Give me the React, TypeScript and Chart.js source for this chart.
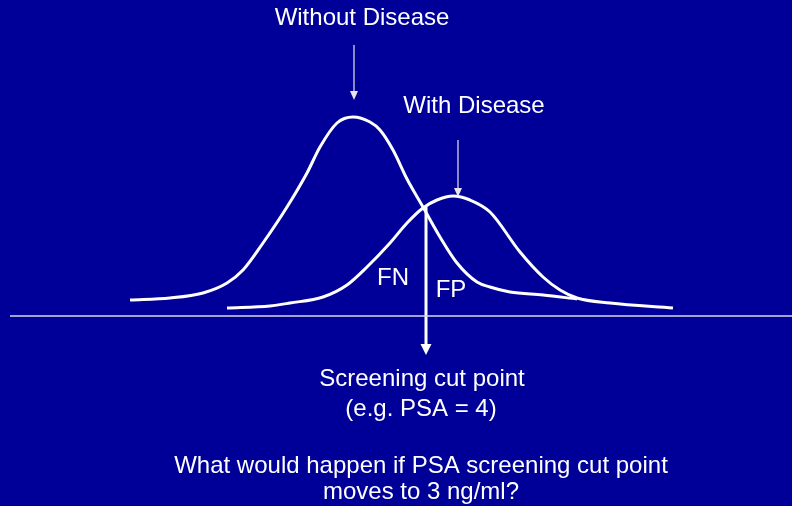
import React, { useEffect, useRef } from "react";
import { Chart, registerables } from "chart.js";

Chart.register(...registerables);

// Horizontal position (arbitrary units) and curve height above the baseline (arbitrary units)
const withoutDiseaseX = [130, 170, 203, 227, 243, 263, 287, 307, 320, 337, 353, 370, 380, 393, 407, 423, 440, 457, 477, 490, 510, 543, 577];
const withoutDiseaseY = [16, 18, 23, 33, 46, 73, 109, 143, 169, 193, 199, 194, 186, 166, 137, 109, 79, 53, 34, 29, 24, 21, 17];

const withDiseaseX = [227, 270, 290, 323, 347, 367, 390, 407, 423, 437, 453, 470, 490, 520, 543, 560, 577, 610, 673];
const withDiseaseY = [8, 10, 13, 19, 31, 49, 73, 93, 108, 116, 120, 116, 104, 64, 39, 26, 18, 13, 8];

const baselineX = [10, 792];
const baselineY = [0, 0];

const cutPointX = 426;
const cutTopY = 109;
const cutBottomY = -39;

const withoutArrowX = 354;
const withoutArrowY = [271, 216];
const withArrowX = 458;
const withArrowY = [176, 119];

const labelTexts = [
  "Without Disease",
  "With Disease",
  "FN",
  "FP",
  "Screening cut point",
  "(e.g. PSA = 4)",
  "What would happen if PSA screening cut point",
  "moves to 3 ng/ml?",
];
const labelX = [362, 474, 393, 451, 422, 421, 421, 421];
const labelY = [298, 210, 38, 26, -63, -93, -150, -176];

const BG = "#000099";
const FONT = '24px "Liberation Sans", Arial, sans-serif';

const toPts = (xs: number[], ys: number[]) => xs.map((x, i) => ({ x, y: ys[i] }));

const overlay = {
  id: "overlay",
  beforeDraw(chart: any) {
    const { ctx, width, height } = chart;
    ctx.save();
    ctx.fillStyle = BG;
    ctx.fillRect(0, 0, width, height);
    ctx.restore();
  },
  afterDatasetsDraw(chart: any) {
    const { ctx, scales } = chart;
    const xs = scales.x;
    const ys = scales.y;
    const head = (x: number, y: number, w: number, h: number, color: string) => {
      const px = xs.getPixelForValue(x);
      const py = ys.getPixelForValue(y);
      ctx.save();
      ctx.fillStyle = color;
      ctx.beginPath();
      ctx.moveTo(px, py);
      ctx.lineTo(px - w / 2, py - h);
      ctx.lineTo(px + w / 2, py - h);
      ctx.closePath();
      ctx.fill();
      ctx.restore();
    };
    head(withoutArrowX, withoutArrowY[1], 8, 9, "#e6e6e6");
    head(withArrowX, withArrowY[1], 8, 9, "#e6e6e6");
    head(cutPointX, cutBottomY, 11, 11, "#ffffff");

    ctx.save();
    ctx.fillStyle = "#ffffff";
    ctx.font = FONT;
    ctx.textAlign = "center";
    ctx.textBaseline = "middle";
    labelTexts.forEach((t, i) => {
      ctx.fillText(t, xs.getPixelForValue(labelX[i]), ys.getPixelForValue(labelY[i]));
    });
    ctx.restore();
  },
};

export default function App() {
  const ref = useRef<HTMLCanvasElement | null>(null);
  useEffect(() => {
    document.body.style.margin = "0";
    document.body.style.background = BG;
    const line = (data: any[], color: string, width: number) => ({
      data,
      borderColor: color,
      borderWidth: width,
      pointRadius: 0,
      fill: false,
      cubicInterpolationMode: "monotone" as const,
      borderCapStyle: "butt" as const,
      borderJoinStyle: "round" as const,
    });
    const chart = new Chart(ref.current!, {
      type: "line",
      data: {
        datasets: [
          line(toPts(baselineX, baselineY), "#d8d8e8", 1.5),
          line(toPts(withoutDiseaseX, withoutDiseaseY), "#ffffff", 3),
          line(toPts(withDiseaseX, withDiseaseY), "#ffffff", 3),
          line([{ x: cutPointX, y: cutTopY }, { x: cutPointX, y: cutBottomY + 8 }], "#ffffff", 3),
          line([{ x: withoutArrowX, y: withoutArrowY[0] }, { x: withoutArrowX, y: withoutArrowY[1] + 6 }], "#e6e6e6", 1.2),
          line([{ x: withArrowX, y: withArrowY[0] }, { x: withArrowX, y: withArrowY[1] + 6 }], "#e6e6e6", 1.2),
        ],
      },
      options: {
        responsive: false,
        animation: false,
        layout: { padding: 0 },
        plugins: { legend: { display: false }, tooltip: { enabled: false }, title: { display: false } },
        scales: {
          x: { type: "linear", min: 0, max: 792, display: false },
          y: { type: "linear", min: -190, max: 316, display: false },
        },
      },
      plugins: [overlay],
    });
    return () => chart.destroy();
  }, []);
  return (
    <div style={{ width: 792, height: 506, background: BG }}>
      <canvas ref={ref} width={792} height={506} style={{ display: "block" }} />
    </div>
  );
}
